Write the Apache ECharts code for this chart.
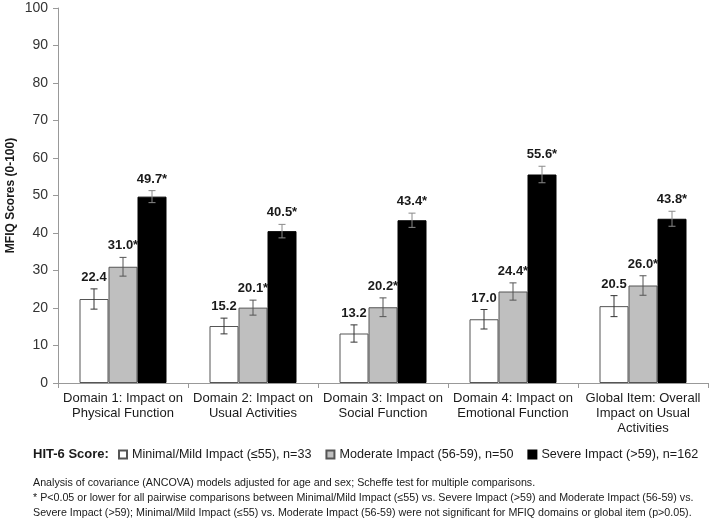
<!DOCTYPE html>
<html><head><meta charset="utf-8">
<script src="https://cdn.jsdelivr.net/npm/echarts@6/dist/echarts.min.js"></script>
<style>html,body{margin:0;padding:0;background:#fff}#c{width:709px;height:522px}</style>
</head><body><div id="c"></div>
<script>
const categories = [
  "Domain 1: Impact on\nPhysical Function",
  "Domain 2: Impact on\nUsual Activities",
  "Domain 3: Impact on\nSocial Function",
  "Domain 4: Impact on\nEmotional Function",
  "Global Item: Overall\nImpact on Usual\nActivities"
];
const seriesNames = [
  "Minimal/Mild Impact (\u226455), n=33",
  "Moderate Impact (56-59), n=50",
  "Severe Impact (>59), n=162"
];
const minimalVals = [22.4, 15.2, 13.2, 17.0, 20.5];
const moderateVals = [31.0, 20.1, 20.2, 24.4, 26.0];
const severeVals = [49.7, 40.5, 43.4, 55.6, 43.8];
const minimalErr = [2.7, 2.1, 2.3, 2.6, 2.8];
const moderateErr = [2.5, 2.0, 2.5, 2.3, 2.6];
const severeErr = [1.6, 1.8, 1.9, 2.2, 2.0];
const minimalStar = [false, false, false, false, false];
const moderateStar = [true, true, true, true, true];
const severeStar = [true, true, true, true, true];
const yTicks = [0, 10, 20, 30, 40, 50, 60, 70, 80, 90, 100];

const FONT = "Liberation Sans, Arial, sans-serif";
const BAR_W = 29;
const groups = [
  {name: seriesNames[0], vals: minimalVals, err: minimalErr, star: minimalStar, fill: "#ffffff", border: "#555555", errColor: "#333333"},
  {name: seriesNames[1], vals: moderateVals, err: moderateErr, star: moderateStar, fill: "#bfbfbf", border: "#555555", errColor: "#555555"},
  {name: seriesNames[2], vals: severeVals, err: severeErr, star: severeStar, fill: "#000000", border: "#000000", errColor: "#8a8a8a"}
];

const series = [];
groups.forEach((g, gi) => {
  series.push({
    name: g.name, type: "bar", barWidth: BAR_W, barGap: "0%",
    itemStyle: {color: g.fill, borderColor: g.border, borderWidth: 1},
    data: g.vals, silent: true, animation: false
  });
});
groups.forEach((g, gi) => {
  series.push({
    type: "custom", silent: true, animation: false, z: 5,
    data: g.vals.map((v, i) => [i, v, g.err[i]]),
    renderItem: function (params, api) {
      const ci = api.value(0), v = api.value(1), e = api.value(2);
      const off = (gi - 1) * BAR_W;
      const top = api.coord([ci, v + e]);
      const bot = api.coord([ci, v - e]);
      const x = top[0] + off;
      const cap = 3.5;
      const lbl = v.toFixed(1) + (g.star[ci] ? "*" : "");
      return {
        type: "group",
        children: [
          {type: "line", shape: {x1: x, y1: top[1], x2: x, y2: bot[1]}, style: {stroke: g.errColor, lineWidth: 1}},
          {type: "line", shape: {x1: x - cap, y1: top[1], x2: x + cap, y2: top[1]}, style: {stroke: g.errColor, lineWidth: 1}},
          {type: "line", shape: {x1: x - cap, y1: bot[1], x2: x + cap, y2: bot[1]}, style: {stroke: g.errColor, lineWidth: 1}},
          {type: "text", x: x, y: top[1] - 5, style: {text: lbl, fill: "#1a1a1a", font: "bold 13px " + FONT, align: "center", verticalAlign: "bottom"}}
        ]
      };
    }
  });
});

const chart = echarts.init(document.getElementById("c"), null, {renderer: "canvas"});
chart.setOption({
  animation: false,
  backgroundColor: "#ffffff",
  textStyle: {fontFamily: FONT},
  grid: {left: 58, right: 1, top: 8, bottom: 139, containLabel: false, outerBoundsMode: "none"},
  legend: {
    data: seriesNames, left: 114, top: 443, width: 595, icon: "rect", itemWidth: 8, itemHeight: 8, itemGap: 14,
    textStyle: {fontSize: 12.6, color: "#1a1a1a", fontFamily: FONT}, selectedMode: false, padding: [5, 0, 5, 4]
  },
  xAxis: {
    type: "category", data: categories,
    axisLine: {lineStyle: {color: "#999999"}},
    axisTick: {show: true, alignWithLabel: false, length: 5, lineStyle: {color: "#999999"}},
    axisLabel: {interval: 0, fontSize: 13, lineHeight: 15, color: "#1a1a1a", margin: 8, fontFamily: FONT}
  },
  yAxis: {
    type: "value", min: yTicks[0], max: yTicks[yTicks.length - 1], interval: 10,
    name: "MFIQ Scores (0-100)", nameLocation: "middle", nameRotate: 90, nameGap: 41, nameMoveOverlap: false,
    nameTextStyle: {fontSize: 12, fontWeight: "bold", color: "#1a1a1a", fontFamily: FONT},
    axisLine: {show: true, lineStyle: {color: "#999999"}},
    axisTick: {show: true, length: 5, lineStyle: {color: "#999999"}},
    splitLine: {show: false},
    axisLabel: {fontSize: 14, color: "#333333", margin: 10, fontFamily: FONT}
  },
  graphic: [
    {type: "text", left: 33, top: 448, style: {text: "HIT-6 Score:", font: "bold 13px " + FONT, fill: "#1a1a1a"}},
    {type: "text", left: 33, top: 476, style: {
      text: "Analysis of covariance (ANCOVA) models adjusted for age and sex; Scheffe test for multiple comparisons.\n* P<0.05 or lower for all pairwise comparisons between Minimal/Mild Impact (\u226455) vs. Severe Impact (>59) and Moderate Impact (56-59) vs.\nSevere Impact (>59); Minimal/Mild Impact (\u226455) vs. Moderate Impact (56-59) were not significant for MFIQ domains or global item (p>0.05).",
      font: "10.7px " + FONT, lineHeight: 15, fill: "#1a1a1a"}}
  ],
  series: series
});
</script></body></html>
